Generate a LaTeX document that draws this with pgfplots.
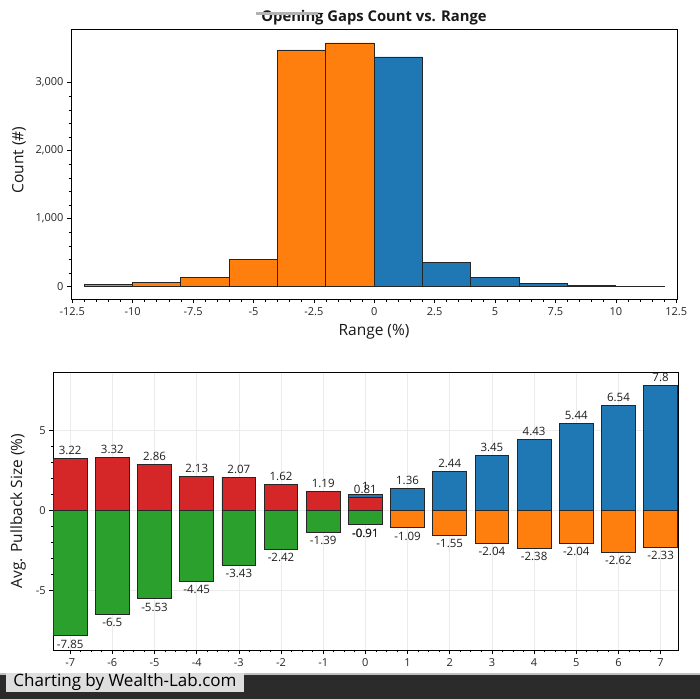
\documentclass[border=0pt]{standalone}
\usepackage{fontspec}
\setmainfont{Open Sans}
\usepackage{pgfplots}
\pgfplotsset{compat=1.18}
\definecolor{cblue}{HTML}{1F77B4}
\definecolor{corange}{HTML}{FF7F0E}
\definecolor{cred}{HTML}{D62728}
\definecolor{cgreen}{HTML}{2CA02C}
\definecolor{band}{HTML}{2B2B2B}
\definecolor{boxg}{HTML}{DEDEDE}
\begin{document}
\begin{tikzpicture}[x=1bp,y=1bp]
\useasboundingbox (0,0) rectangle (700,699);
\fill[white] (0,0) rectangle (700,699);
% ---------- top histogram ----------
\begin{axis}[
  at={(71bp,399.7bp)}, anchor=south west,
  scale only axis, width=606.5bp, height=270bp,
  xmin=-12.55, xmax=12.55, ymin=-185, ymax=3785,
  axis line style={black, line width=0.9bp},
  tick pos=left, tick align=outside,
  major tick length=4bp, minor tick length=2.5bp,
  tick style={black, line width=0.7bp},
  xtick={-12.5,-10,-7.5,-5,-2.5,0,2.5,5,7.5,10,12.5},
  minor x tick num=4,
  ytick={0,1000,2000,3000}, minor y tick num=4,
  scaled y ticks=false, scaled x ticks=false,
  /pgf/number format/.cd, 1000 sep={,}, assume math mode=true, /pgfplots/.cd,
  tick label style={font=\fontsize{11bp}{12bp}\selectfont, text=black!85},
  xticklabel style={yshift=-1bp},
]
\addplot[ybar interval, fill=corange, draw=black!85, line width=0.9bp]
  coordinates {(-12,30) (-10,64) (-8,138) (-6,407) (-4,3481) (-2,3584) (0,0)};
\addplot[ybar interval, fill=cblue, draw=black!85, line width=0.9bp]
  coordinates {(0,3378) (2,363) (4,138) (6,50) (8,15) (10,3) (12,0)};
\end{axis}
\node[font=\bfseries\fontsize{14.8bp}{16bp}\selectfont, text=black!90] at (374,699-18) {Opening Gaps Count vs. Range};
\fill[gray!60] (256,699-15) rectangle (318,699-12.5);
\node[font=\fontsize{15.5bp}{17bp}\selectfont, text=black!90] at (374,699-332) {Range (\%)};
\node[font=\fontsize{15.5bp}{17bp}\selectfont, text=black!90, rotate=90] at (19,699-160) {Count (\#)};
% ---------- bottom bars ----------
\begin{axis}[
  at={(53.3bp,49bp)}, anchor=south west,
  scale only axis, width=625bp, height=277.7bp,
  xmin=-7.4, xmax=7.42, ymin=-8.73, ymax=8.63,
  axis line style={black, line width=0.9bp},
  tick pos=left, tick align=outside,
  major tick length=4bp, minor tick length=2.5bp,
  tick style={black, line width=0.7bp},
  xtick={-7,-6,-5,-4,-3,-2,-1,0,1,2,3,4,5,6,7}, minor x tick num=3,
  ytick={-5,0,5}, minor y tick num=4,
  grid=major, major grid style={color=black!8, line width=0.7bp},
  /pgf/number format/.cd, assume math mode=true, /pgfplots/.cd,
  tick label style={font=\fontsize{11bp}{12bp}\selectfont, text=black!85},
  xticklabel style={yshift=-1bp},
  every node near coord/.append style={font=\fontsize{11.5bp}{13bp}\selectfont, text=black!88, inner sep=3.5bp},
]
\addplot[ybar, bar width=0.8, bar shift=0pt, fill=cblue, draw=black!85, line width=0.9bp, nodes near coords]
  coordinates {(0,1) (1,1.36) (2,2.44) (3,3.45) (4,4.43) (5,5.44) (6,6.54) (7,7.8)};
\addplot[ybar, bar width=0.8, bar shift=0pt, fill=cred, draw=black!85, line width=0.9bp, nodes near coords]
  coordinates {(-7,3.22) (-6,3.32) (-5,2.86) (-4,2.13) (-3,2.07) (-2,1.62) (-1,1.19) (0,0.81)};
\addplot[ybar, bar width=0.8, bar shift=0pt, fill=corange, draw=black!85, line width=0.9bp, nodes near coords]
  coordinates {(0,-0.91) (1,-1.09) (2,-1.55) (3,-2.04) (4,-2.38) (5,-2.04) (6,-2.62) (7,-2.33)};
\addplot[ybar, bar width=0.8, bar shift=0pt, fill=cgreen, draw=black!85, line width=0.9bp, nodes near coords]
  coordinates {(-7,-7.85) (-6,-6.5) (-5,-5.53) (-4,-4.45) (-3,-3.43) (-2,-2.42) (-1,-1.39) (0,-0.91)};
\end{axis}
\node[font=\fontsize{15.5bp}{17bp}\selectfont, text=black!90, rotate=90] at (18,699-511) {Avg. Pullback Size (\%)};
% ---------- bottom band ----------
\fill[band] (0,0) rectangle (700,23.5);
\fill[black!25] (0,23.5) rectangle (700,25.5);
\fill[boxg] (6,7.3) rectangle (244,26.3);
\node[font=\fontsize{17bp}{19bp}\selectfont, text=black] at (125,17) {Charting by Wealth-Lab.com};
\end{tikzpicture}
\end{document}
